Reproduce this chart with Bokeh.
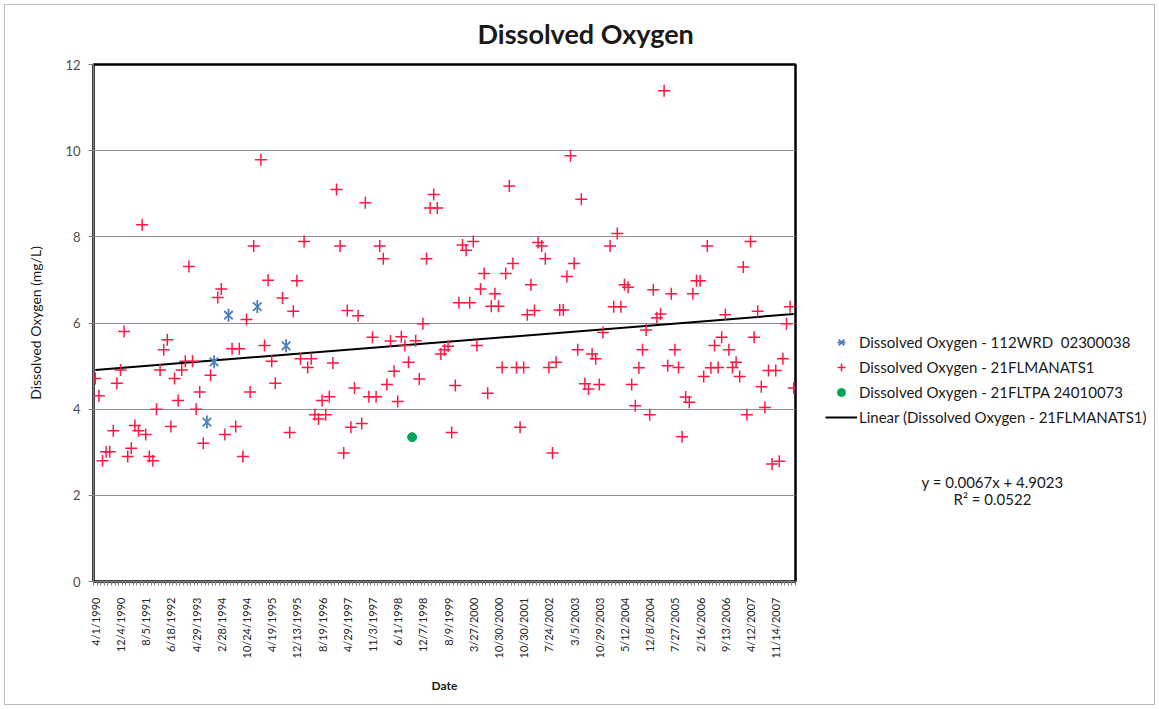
import math
from bokeh.plotting import figure
from bokeh.layouts import row
from bokeh.models import (ColumnDataSource, FixedTicker, Legend, LegendItem,
                          Label, Title, Range1d)
from bokeh.embed import file_html
from bokeh.resources import INLINE

# Sample sequence numbers (category positions) and dissolved oxygen, mg/L
manats_idx = [1, 2, 3, 4, 5, 6, 7, 8, 9, 10, 11, 12, 13, 14, 15, 16, 17, 18, 19, 20,
              21, 22, 23, 24, 25, 26, 27, 28, 29, 30, 31, 33, 35, 36, 37, 39, 40, 41, 42, 43,
              44, 45, 47, 48, 49, 50, 51, 53, 55, 56, 57, 58, 59, 60, 61, 62, 63, 64, 65, 66,
              67, 68, 69, 70, 71, 72, 73, 74, 75, 76, 77, 78, 79, 80, 81, 82, 83, 84, 85, 86,
              87, 88, 90, 91, 92, 93, 94, 95, 96, 97, 98, 99, 100, 101, 102, 103, 104, 105, 106, 107,
              108, 109, 110, 111, 112, 113, 114, 115, 116, 117, 118, 119, 120, 121, 122, 123, 124, 125, 126, 127,
              128, 129, 130, 131, 132, 133, 134, 135, 136, 137, 138, 139, 140, 141, 142, 144, 145, 146, 147, 148,
              149, 150, 151, 152, 153, 154, 155, 156, 157, 158, 159, 160, 161, 162, 163, 164, 165, 166, 167, 168,
              169, 170, 171, 172, 173, 174, 175, 176, 177, 178, 179, 180, 181, 182, 183, 184, 185, 186, 187, 188,
              189, 190, 191, 192, 193, 194, 195]
manats_do = [4.71, 4.31, 2.80, 3.01, 3.01, 3.50, 4.60, 4.91, 5.80, 2.90, 3.09, 3.62, 3.50, 8.28, 3.41, 2.90, 2.80, 4.00, 4.91, 5.38,
             5.61, 3.60, 4.71, 4.20, 4.91, 5.11, 7.31, 5.11, 4.00, 4.40, 3.21, 4.79, 6.59, 6.79, 3.41, 5.40, 3.60, 5.40, 2.90, 6.08,
             4.40, 7.79, 9.79, 5.48, 6.99, 5.11, 4.60, 6.58, 3.46, 6.27, 6.98, 5.17, 7.89, 4.97, 5.17, 3.87, 3.77, 4.20, 3.87, 4.29,
             5.07, 9.10, 7.79, 2.98, 6.29, 3.58, 4.49, 6.17, 3.67, 8.79, 4.29, 5.67, 4.29, 7.79, 7.49, 4.57, 5.58, 4.88, 4.18, 5.68,
             5.48, 5.09, 5.59, 4.70, 5.98, 7.49, 8.67, 8.98, 8.67, 5.28, 5.38, 5.46, 3.46, 4.55, 6.47, 7.81, 7.69, 6.47, 7.89, 5.48,
             6.79, 7.15, 4.37, 6.39, 6.68, 6.39, 4.97, 7.15, 9.18, 7.38, 4.97, 3.58, 4.97, 6.19, 6.89, 6.29, 7.87, 7.79, 7.49, 4.97,
             2.98, 5.09, 6.30, 6.30, 7.08, 9.88, 7.38, 5.38, 8.87, 4.59, 4.47, 5.28, 5.17, 4.57, 5.78, 7.79, 6.38, 8.08, 6.38, 6.89,
             6.83, 4.57, 4.08, 4.96, 5.38, 5.84, 3.87, 6.77, 6.12, 6.21, 11.39, 5.01, 6.68, 5.38, 4.97, 3.36, 4.28, 4.16, 6.68, 6.98,
             6.98, 4.76, 7.79, 4.96, 5.48, 4.97, 5.67, 6.19, 5.38, 4.97, 5.09, 4.76, 7.30, 3.87, 7.89, 5.67, 6.27, 4.52, 4.04, 4.90,
             2.73, 4.90, 2.79, 5.17, 5.98, 6.38, 4.49]

wrd_idx = [32, 34, 38, 46, 54]
wrd_do = [3.70, 5.10, 6.18, 6.38, 5.47]

tpa_idx = [89]
tpa_do = [3.35]

# Linear trend reported for 21FLMANATS1
trend_slope = 0.0067
trend_intercept = 4.9023
trend_r2 = 0.0522

n_samples = 195
label_step = 7
date_labels = ["4/1/1990", "12/4/1990", "8/5/1991", "6/18/1992", "4/29/1993", "2/28/1994",
               "10/24/1994", "4/19/1995", "12/13/1995", "8/19/1996", "4/29/1997", "11/3/1997",
               "6/1/1998", "12/7/1998", "8/9/1999", "3/27/2000", "10/30/2000", "10/30/2001",
               "7/24/2002", "3/5/2003", "10/29/2003", "5/12/2004", "12/8/2004", "7/27/2005",
               "2/16/2006", "9/13/2006", "4/12/2007", "11/14/2007"]
y_ticks = [0, 2, 4, 6, 8, 10, 12]

FONT = "Lato"
H = 709
MAIN_W = 800
SIDE_W = 359
FRAME_TOP, FRAME_BOTTOM = 64, 581

RED = "#ff1744"
BLUE = "#4a7ebb"
GREEN = "#00a455"

p = figure(width=MAIN_W, height=H, x_range=(0.5, n_samples + 0.5), y_range=(0, 12),
           output_backend="svg", toolbar_location=None,
           min_border_left=93, min_border_right=5, min_border_top=FRAME_TOP,
           min_border_bottom=H - FRAME_BOTTOM)
p.background_fill_color = "white"
p.border_fill_color = "white"
p.outline_line_color = "black"
p.outline_line_width = 2.5

p.title = Title(text="Dissolved Oxygen", align="left", offset=384, standoff=29,
                text_font=FONT, text_font_style="bold", text_font_size="27px",
                text_color="#1a1a1a")

# horizontal gridlines only
p.xgrid.grid_line_color = None
p.ygrid.grid_line_color = "#8c8c8c"
p.ygrid.grid_line_width = 1

# y axis
p.yaxis.ticker = FixedTicker(ticks=y_ticks)
p.yaxis.axis_line_color = "#7f7f7f"
p.yaxis.major_tick_line_color = "#7f7f7f"
p.yaxis.major_tick_out = 5
p.yaxis.major_tick_in = 0
p.yaxis.minor_tick_line_color = None
p.yaxis.major_label_text_font = FONT
p.yaxis.major_label_text_font_size = "13px"
p.yaxis.major_label_text_color = "#4d4d4d"
p.yaxis.major_label_standoff = 8
p.yaxis.axis_label = "Dissolved Oxygen (mg/L)"
p.yaxis.axis_label_text_font = FONT
p.yaxis.axis_label_text_font_style = "normal"
p.yaxis.axis_label_text_font_size = "14px"
p.yaxis.axis_label_text_color = "#1a1a1a"
p.yaxis.axis_label_standoff = 18

# x axis: one tick per sample, a date label every few samples
label_pos = [1 + label_step * i for i in range(len(date_labels))]
boundaries = [i + 0.5 for i in range(0, n_samples + 1)]
p.xaxis.ticker = FixedTicker(ticks=label_pos, minor_ticks=boundaries)
p.xaxis.major_label_overrides = {pos: lab for pos, lab in zip(label_pos, date_labels)}
p.xaxis.major_label_orientation = math.pi / 2
p.xaxis.major_tick_line_color = None
p.xaxis.minor_tick_line_color = "#7f7f7f"
p.xaxis.minor_tick_out = 4
p.xaxis.minor_tick_in = 0
p.xaxis.axis_line_color = "#7f7f7f"
p.xaxis.major_label_text_font = FONT
p.xaxis.major_label_text_font_size = "11px"
p.xaxis.major_label_text_color = "#262626"
p.xaxis.major_label_standoff = 10
p.xaxis.axis_label = "Date"
p.xaxis.axis_label_text_font = FONT
p.xaxis.axis_label_text_font_style = "bold"
p.xaxis.axis_label_text_font_size = "12px"
p.xaxis.axis_label_text_color = "#1a1a1a"
p.xaxis.axis_label_standoff = 17

# series
src_manats = ColumnDataSource(dict(x=manats_idx, y=manats_do))
src_wrd = ColumnDataSource(dict(x=wrd_idx, y=wrd_do))
src_tpa = ColumnDataSource(dict(x=tpa_idx, y=tpa_do))

trend_x = [1, n_samples]
trend_y = [trend_slope * x + trend_intercept for x in trend_x]
p.line(trend_x, trend_y, line_color="black", line_width=2)

p.scatter("x", "y", source=src_manats, marker="cross", size=12,
          line_color=RED, line_width=1.5)
p.scatter("x", "y", source=src_wrd, marker="x", size=12, line_color=BLUE, line_width=1.8)
p.scatter("x", "y", source=src_wrd, marker="dash", size=13, angle=math.pi / 2,
          line_color=BLUE, line_width=1.8)
p.scatter("x", "y", source=src_tpa, marker="circle", size=9,
          fill_color=GREEN, line_color=GREEN)

# side panel holding the legend and the trendline equation; its frame is
# aligned with the main plot area, so the y range maps straight to page pixels
side = figure(width=SIDE_W, height=H, x_range=Range1d(0, SIDE_W),
              y_range=Range1d(FRAME_BOTTOM, FRAME_TOP),
              output_backend="svg", toolbar_location=None,
              min_border_left=0, min_border_right=0,
              min_border_top=FRAME_TOP, min_border_bottom=H - FRAME_BOTTOM)
side.axis.visible = False
side.grid.visible = False
side.outline_line_color = None
side.background_fill_color = "white"
side.border_fill_color = "white"

# legend keys: renderers with a single undrawable point
nan = float("nan")
k_wrd_x = side.scatter(x=[nan], y=[nan], marker="x", size=12, line_color=BLUE, line_width=1.8)
k_wrd_v = side.scatter(x=[nan], y=[nan], marker="dash", size=13, angle=math.pi / 2,
                       line_color=BLUE, line_width=1.8)
k_manats = side.scatter(x=[nan], y=[nan], marker="cross", size=12, line_color=RED, line_width=1.5)
k_tpa = side.scatter(x=[nan], y=[nan], marker="circle", size=9, fill_color=GREEN, line_color=GREEN)
k_trend = side.line(x=[nan], y=[nan], line_color="black", line_width=2)

legend = Legend(items=[
    LegendItem(label="Dissolved Oxygen - 112WRD  02300038", renderers=[k_wrd_x, k_wrd_v]),
    LegendItem(label="Dissolved Oxygen - 21FLMANATS1", renderers=[k_manats]),
    LegendItem(label="Dissolved Oxygen - 21FLTPA 24010073", renderers=[k_tpa]),
    LegendItem(label="Linear (Dissolved Oxygen - 21FLMANATS1)", renderers=[k_trend]),
], location=(25, 154))
legend.background_fill_alpha = 0
legend.border_line_color = None
legend.label_text_font = FONT
legend.label_text_font_size = "15px"
legend.label_text_color = "#1a1a1a"
legend.glyph_width = 32
legend.glyph_height = 20
legend.label_height = 20
legend.label_standoff = 2
legend.spacing = 5
legend.padding = 0
legend.margin = 0
side.add_layout(legend, "center")

side.add_layout(Label(x=192, y=481, text=f"y = {trend_slope}x + {trend_intercept}",
                      text_font=FONT, text_font_size="15px", text_align="center",
                      text_baseline="middle", text_color="#1a1a1a"))
side.add_layout(Label(x=192, y=498, text=f"R\u00b2 = {trend_r2}",
                      text_font=FONT, text_font_size="15px", text_align="center",
                      text_baseline="middle", text_color="#1a1a1a"))

# thin grey border round the whole chart area, drawn over both panels
chart_border = (":host { position: relative; }"
                ":host::after { content: ''; position: absolute; left: 4px; top: 4px;"
                " right: 4px; bottom: 4px; border: 1px solid #bdbdbd;"
                " pointer-events: none; z-index: 10; }")
layout = row(p, side, spacing=0, stylesheets=[chart_border])

with open("out.html", "w") as f:
    f.write(file_html(layout, INLINE))
